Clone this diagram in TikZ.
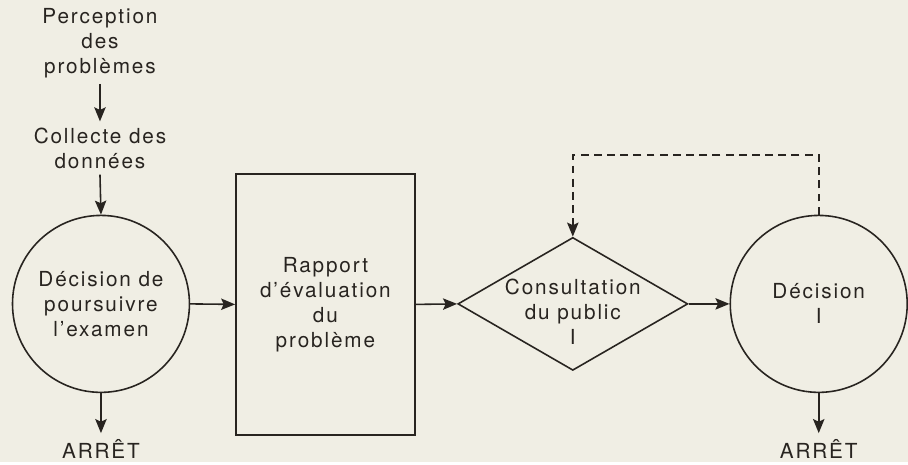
\documentclass[tikz,border=0pt]{standalone}
\usepackage{fontspec}
\setmainfont{TeX Gyre Heros}[LetterSpace=9]
\usetikzlibrary{arrows.meta,shapes.geometric}
\definecolor{paper}{RGB}{240,238,228}
\definecolor{ink}{RGB}{40,36,32}
\begin{document}
\begin{tikzpicture}[x=0.2mm,y=-0.2mm,>={Stealth[length=8pt,width=6.5pt,inset=1.5pt]},
  every node/.style={font=\fontsize{11.8}{14.2}\selectfont,text=ink,align=center},
  cercle/.style={circle,draw=ink,line width=0.9pt,minimum size=3.54cm,inner sep=0pt},
  boite/.style={rectangle,draw=ink,line width=0.9pt,minimum width=3.58cm,minimum height=5.22cm},
  losange/.style={diamond,draw=ink,line width=0.9pt,minimum width=4.6cm,minimum height=2.66cm,inner sep=0pt},
  fleche/.style={->,draw=ink,line width=0.9pt}]
\fill[paper] (0,0) rectangle (908,462);
% left column
\node (perc) at (100,43) {Perception\\des\\problèmes};
\node (coll) at (100,148) {Collecte des\\données};
\node[cercle] (c1) at (101,304) {Décision de\\poursuivre\\l'examen};
\node (stop1) at (101,449) {ARRÊT};
% middle
\node[boite] (rap) at (325.5,304.5) {Rapport\\d'évaluation\\du\\problème};
\node[losange] (cons) at (573,304) {};
\node (constxt) at (573,312) {Consultation\\du public\\I};
% right
\node[cercle] (c2) at (819,304) {Décision\\I};
\node (stop2) at (819,449) {ARRÊT};
\coordinate (retour) at (819,155);
% connectors
\draw[fleche] (perc) -- (coll);
\draw[fleche] (coll.south) -- (c1.north);
\draw[fleche] (c1.south) -- (stop1.north);
\draw[fleche] (c1.east) -- (rap.west);
\draw[fleche] (rap.east) -- (cons.west);
\draw[fleche] (cons.east) -- (c2.west);
\draw[fleche] (c2.south) -- (stop2.north);
\draw[fleche,dash pattern=on 4.5pt off 3pt] (c2.north) -- (retour) -| (cons.north);
\end{tikzpicture}
\end{document}
